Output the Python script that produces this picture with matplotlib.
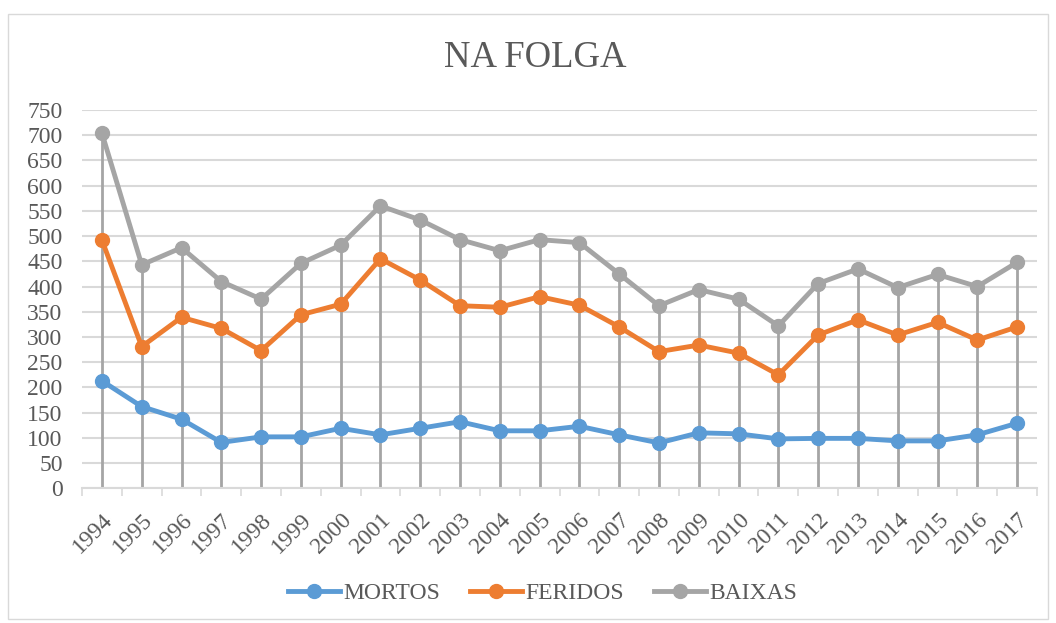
import matplotlib.pyplot as plt
from matplotlib.patches import Rectangle
import numpy as np

plt.rcParams['font.family'] = ['Liberation Serif', 'DejaVu Serif']

anos = [str(a) for a in range(1994, 2018)]
mortos = [213, 162, 137, 91, 102, 102, 119, 106, 119, 132, 114, 114,
          123, 106, 90, 110, 108, 98, 99, 99, 94, 94, 106, 129]
feridos = [492, 281, 339, 317, 273, 344, 365, 455, 413, 362, 359, 380,
           363, 320, 271, 284, 268, 225, 304, 334, 304, 329, 294, 320]
baixas = [704, 443, 477, 410, 375, 446, 482, 560, 532, 493, 471, 493,
          487, 425, 362, 394, 375, 322, 406, 435, 398, 424, 400, 448]

azul = "#5B9BD5"
laranja = "#ED7D31"
cinza = "#A5A5A5"
grelha = "#D9D9D9"
texto = "#595959"

fig = plt.figure(figsize=(10.56, 6.23), dpi=100)
ax = fig.add_axes([0.0777, 0.2162, 0.9043, 0.6072])

x = np.arange(len(anos))

# drop lines
ax.vlines(x, 0, baixas, color=cinza, linewidth=2, zorder=1)

ax.plot(x, mortos, color=azul, linewidth=3.5, marker='o', markersize=10, label='MORTOS', zorder=3)
ax.plot(x, feridos, color=laranja, linewidth=3.5, marker='o', markersize=10, label='FERIDOS', zorder=3)
ax.plot(x, baixas, color=cinza, linewidth=3.5, marker='o', markersize=10, label='BAIXAS', zorder=3)

ax.set_xlim(-0.5, len(anos) - 0.5)
ax.set_ylim(0, 750)
ax.set_yticks(np.arange(0, 751, 50))
ax.yaxis.grid(True, color=grelha, linewidth=1.5)
ax.set_axisbelow(True)

ax.set_xticks(x)
ax.set_xticklabels(anos, rotation=45, ha='right', rotation_mode='anchor', fontsize=17, color=texto)
ax.set_xticks(np.arange(-0.5, len(anos), 1), minor=True)
ax.tick_params(axis='x', which='major', length=0, pad=15)
ax.tick_params(axis='x', which='minor', length=6, color=grelha, width=1.2)
ax.tick_params(axis='y', length=0, labelsize=17, labelcolor=texto, pad=14)

for s in ['top', 'right', 'left']:
    ax.spines[s].set_visible(False)
ax.spines['bottom'].set_color(grelha)
ax.spines['bottom'].set_linewidth(1.5)

fig.text(0.507, 0.908, 'NA FOLGA', ha='center', va='center', fontsize=26.5, color=texto)

fig.legend(loc='center', bbox_to_anchor=(0.514, 0.048), ncol=3, frameon=False,
           fontsize=17, handlelength=2.2, columnspacing=1.25, handletextpad=0.15,
           labelcolor=texto)

fig.patches.append(Rectangle((0.008, 0.006), 0.984, 0.972, transform=fig.transFigure,
                             fill=False, edgecolor=grelha, linewidth=1))

fig.savefig('out.png', dpi=100)
